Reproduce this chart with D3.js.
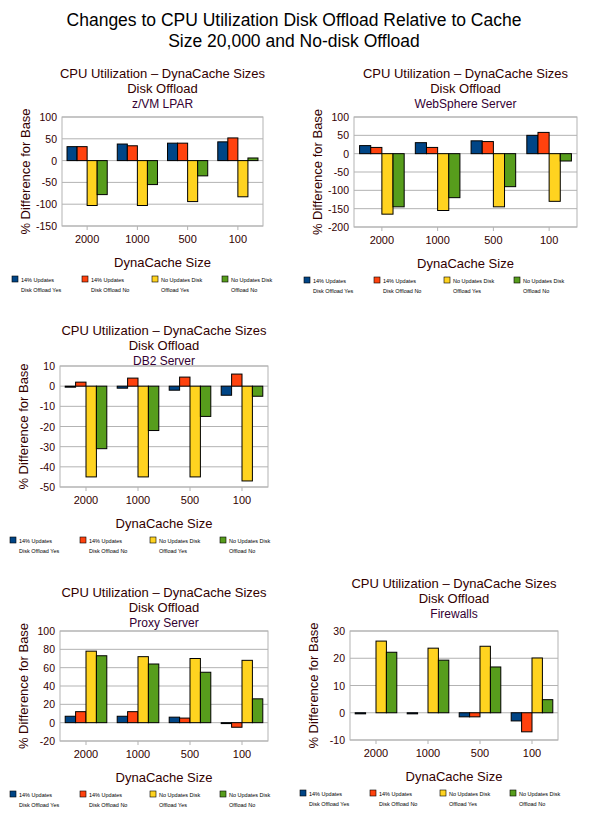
<!DOCTYPE html>
<html><head><meta charset="utf-8">
<script src="https://cdn.jsdelivr.net/npm/d3@7"></script>
<style>body{margin:0;background:#fff}text{font-family:"Liberation Sans",Arial,sans-serif}</style>
</head><body><svg id="c" width="589" height="824"></svg>
<script>
const categories = ["2000", "1000", "500", "100"];
const seriesNames = ["14% Updates Disk Offload Yes", "14% Updates Disk Offload No", "No Updates Disk Offload Yes", "No Updates Disk Offload No"];
const colors = ["#004586", "#ff420e", "#ffd320", "#579d1c"];

// values per category: [14% yes, 14% no, none yes, none no]
const zvmValues = [[32, 32, -103, -78], [38, 34, -103, -55], [40, 40, -94, -35], [43, 52, -83, 6]];
const wasValues = [[22, 17, -165, -145], [30, 17, -155, -120], [35, 33, -145, -90], [50, 58, -130, -20]];
const db2Values = [[-0.5, 2, -45, -31], [-1, 4, -45, -22], [-2, 4.5, -45, -15], [-4.5, 6, -47, -5]];
const proxyValues = [[7, 12, 78, 73], [7, 12, 72, 64], [6, 5, 70, 55], [-1, -5, 68, 26]];
const fwValues = [[-0.4, 0, 26.3, 22.2], [-0.4, 0, 23.7, 19.3], [-1.5, -1.5, 24.4, 16.8], [-3, -7, 20.1, 4.8]];

const zvmTicks = [100, 50, 0, -50, -100, -150];
const wasTicks = [100, 50, 0, -50, -100, -150, -200];
const db2Ticks = [10, 0, -10, -20, -30, -40, -50];
const proxyTicks = [100, 80, 60, 40, 20, 0, -20];
const fwTicks = [30, 20, 10, 0, -10];

const svg = d3.select("#c");
const textCol = "#330000";

svg.append("text").attr("x", 294).attr("y", 26).attr("text-anchor", "middle")
  .attr("font-size", 17.5).attr("fill", "#000").text("Changes to CPU Utilization Disk Offload Relative to Cache");
svg.append("text").attr("x", 294).attr("y", 47).attr("text-anchor", "middle")
  .attr("font-size", 17.5).attr("fill", "#000").text("Size 20,000 and No-disk Offload");

function panel(cfg) {
  const { left, right, top, bottom, ticks, values, sub, titleY } = cfg;
  const g = svg.append("g");
  const cx = (left + right) / 2;
  ["CPU Utilization – DynaCache Sizes", "Disk Offload"].forEach((t, i) =>
    g.append("text").attr("x", cx).attr("y", titleY + i * 15).attr("text-anchor", "middle")
      .attr("font-size", 13).attr("fill", textCol).text(t));
  g.append("text").attr("x", cx).attr("y", titleY + 30).attr("text-anchor", "middle")
    .attr("font-size", 12).attr("fill", "#330033").text(sub);

  const y = d3.scaleLinear().domain([d3.min(ticks), d3.max(ticks)]).range([bottom, top]);
  const x = d3.scaleBand().domain(categories).range([left, right]).paddingInner(0.2).paddingOuter(0.1);
  const xs = d3.scaleBand().domain(d3.range(4)).range([0, x.bandwidth()]);

  g.selectAll(".grid").data(ticks).enter().append("line")
    .attr("x1", left).attr("x2", right).attr("y1", y).attr("y2", y)
    .attr("stroke", "#b3b3b3");
  g.append("rect").attr("x", left).attr("y", top).attr("width", right - left).attr("height", bottom - top)
    .attr("fill", "none").attr("stroke", "#b3b3b3");
  g.selectAll(".yl").data(ticks).enter().append("text")
    .attr("x", left - 5).attr("y", d => y(d) + 4).attr("text-anchor", "end")
    .attr("font-size", 10.5).attr("fill", textCol).text(d => d);

  categories.forEach((c, ci) => {
    g.selectAll(null).data(values[ci]).enter().append("rect")
      .attr("x", (d, i) => x(c) + xs(i))
      .attr("width", xs.bandwidth())
      .attr("y", d => y(Math.max(0, d)))
      .attr("height", d => Math.abs(y(d) - y(0)))
      .attr("fill", (d, i) => colors[i]).attr("stroke", "#000").attr("stroke-width", 1);
    g.append("line").attr("x1", x(c) + x.bandwidth() / 2).attr("x2", x(c) + x.bandwidth() / 2)
      .attr("y1", bottom).attr("y2", bottom + 4).attr("stroke", "#b3b3b3");
    g.append("text").attr("x", x(c) + x.bandwidth() / 2).attr("y", bottom + 17).attr("text-anchor", "middle")
      .attr("font-size", 11).attr("fill", textCol).text(c);
  });

  g.append("text").attr("transform", `translate(${left - 32},${(top + bottom) / 2}) rotate(-90)`)
    .attr("text-anchor", "middle").attr("font-size", 13).attr("fill", textCol).text("% Difference for Base");
  g.append("text").attr("x", cx).attr("y", bottom + 41).attr("text-anchor", "middle")
    .attr("font-size", 13).attr("fill", textCol).text("DynaCache Size");

  const ly = bottom + 50;
  const lx0 = left - 50;
  seriesNames.forEach((s, i) => {
    const lx = lx0 + i * 70;
    g.append("rect").attr("x", lx).attr("y", ly).attr("width", 6).attr("height", 6)
      .attr("fill", colors[i]).attr("stroke", "#000").attr("stroke-width", 0.6);
    const words = s.split(" ");
    const l1 = i < 2 ? words.slice(0, 2).join(" ") : words.slice(0, 3).join(" ");
    const l2 = i < 2 ? words.slice(2).join(" ") : words.slice(3).join(" ");
    g.append("text").attr("x", lx + 9).attr("y", ly + 6).attr("font-size", 5.5).attr("fill", "#000").text(l1);
    g.append("text").attr("x", lx + 9).attr("y", ly + 16).attr("font-size", 5.5).attr("fill", "#000").text(l2);
  });
}

panel({ left: 62, right: 263, top: 117, bottom: 226, ticks: zvmTicks, values: zvmValues, sub: "z/VM LPAR", titleY: 78 });
panel({ left: 354, right: 577, top: 117, bottom: 227, ticks: wasTicks, values: wasValues, sub: "WebSphere Server", titleY: 78 });
panel({ left: 60, right: 268, top: 366, bottom: 487, ticks: db2Ticks, values: db2Values, sub: "DB2 Server", titleY: 335 });
panel({ left: 60, right: 268, top: 631, bottom: 741, ticks: proxyTicks, values: proxyValues, sub: "Proxy Server", titleY: 597 });
panel({ left: 350, right: 558, top: 631, bottom: 740, ticks: fwTicks, values: fwValues, sub: "Firewalls", titleY: 588 });
</script></body></html>
